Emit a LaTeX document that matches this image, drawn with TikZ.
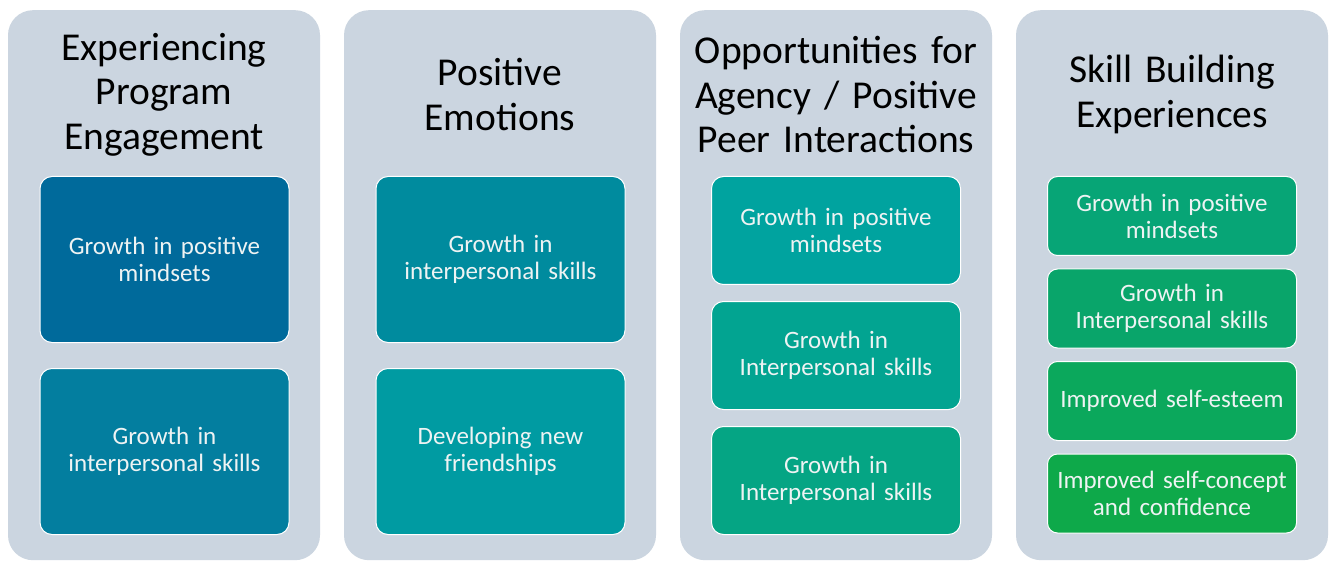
\documentclass[tikz,border=0pt]{standalone}
\usepackage{fontspec}
\setmainfont{Carlito}
\usetikzlibrary{positioning}
\definecolor{panelgray}{HTML}{CBD5E0}
\definecolor{boxtext}{HTML}{EEF3F3}
\definecolor{ca}{HTML}{006A9B}
\definecolor{cb}{HTML}{037E9F}
\definecolor{cc}{HTML}{008B9E}
\definecolor{cd}{HTML}{009BA2}
\definecolor{ce}{HTML}{00A39F}
\definecolor{cf}{HTML}{02A491}
\definecolor{cg}{HTML}{05A584}
\definecolor{ch}{HTML}{07A576}
\definecolor{ci}{HTML}{09A56A}
\definecolor{cj}{HTML}{0BA85C}
\definecolor{ck}{HTML}{0EA94A}
\tikzset{
	panel/.style={
		rectangle,
		rounded corners=25pt,
		fill=panelgray,
		minimum width=312pt,
		minimum height=550pt,
		anchor=north},
	headtext/.style={
		text width=306pt,
		align=center,
		font=\fontsize{39.5}{44.5}\selectfont},
	growbox/.style={
		rectangle,
		rounded corners=12pt,
		draw=white, line width=1pt,
		minimum width=249pt,
		text width=240pt,
		align=center,
		text=boxtext,
		font=\fontsize{25}{27}\selectfont,
		anchor=north},
}
\begin{document}
\begin{tikzpicture}[x=1pt,y=-1pt]
	\useasboundingbox[fill=white] (0,0) rectangle (1330,561);
	% columns
	\node[panel] (p1) at (164,10) {};
	\node[panel] (p2) at (500,10) {};
	\node[panel] (p3) at (836,10) {};
	\node[panel] (p4) at (1172,10) {};
	\node[headtext] (h1) at (164,94.5) {Experiencing\\Program\\Engagement};
	\node[headtext] (h2) at (500,94.5) {Positive\\Emotions};
	\node[headtext] (h3) at (836,94.5) {Opportunities for\\Agency / Positive\\Peer Interactions};
	\node[headtext] (h4) at (1172,94.5) {Skill Building\\Experiences};
	% first column
	\begin{scope}[node distance=25pt, growbox/.append style={minimum height=166pt}]
		\node[growbox, fill=ca] (a1) at (164.5,176) {Growth in positive\\mindsets};
		\node[growbox, fill=cb, below=of a1] (a2) {Growth in\\interpersonal skills};
	\end{scope}
	% second column
	\begin{scope}[node distance=25pt, growbox/.append style={minimum height=166pt}]
		\node[growbox, fill=cc] (b1) at (500.5,176) {Growth in\\interpersonal skills};
		\node[growbox, fill=cd, below=of b1] (b2) {Developing new\\friendships};
	\end{scope}
	% third column
	\begin{scope}[node distance=16pt, growbox/.append style={minimum height=108pt}]
		\node[growbox, fill=ce] (c1) at (836,176) {Growth in positive\\mindsets};
		\node[growbox, fill=cf, below=of c1] (c2) {Growth in\\Interpersonal skills};
		\node[growbox, fill=cg, below=of c2] (c3) {Growth in\\Interpersonal skills};
	\end{scope}
	% fourth column
	\begin{scope}[node distance=12.5pt, growbox/.append style={minimum height=79pt, rounded corners=10pt}]
		\node[growbox, fill=ch] (d1) at (1172,176) {Growth in positive\\mindsets};
		\node[growbox, fill=ci, below=of d1] (d2) {Growth in\\Interpersonal skills};
		\node[growbox, fill=cj, below=of d2] (d3) {Improved self-esteem};
		\node[growbox, fill=ck, below=of d3] (d4) {Improved self-concept\\and confidence};
	\end{scope}
\end{tikzpicture}
\end{document}
